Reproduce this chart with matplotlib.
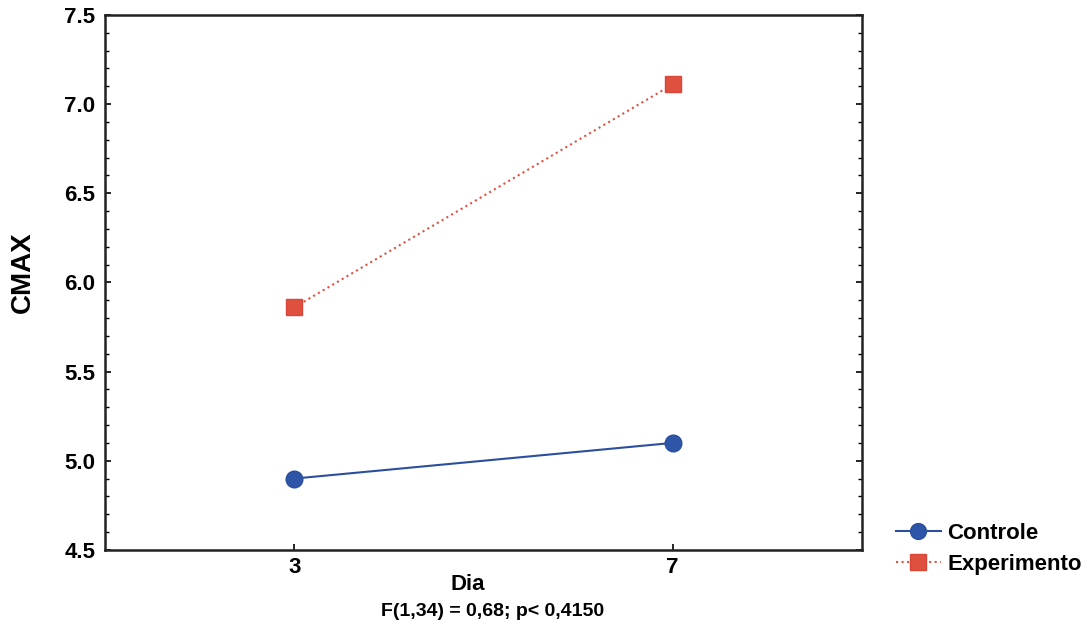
import matplotlib.pyplot as plt
from matplotlib.ticker import MultipleLocator

plt.rcParams['font.family'] = ['Liberation Sans', 'DejaVu Sans']
plt.rcParams['font.weight'] = 'bold'

dias = ["3", "7"]
controle = [4.90, 5.10]
experimento = [5.86, 7.11]
stat_text = "F(1,34) = 0,68; p< 0,4150"

fig = plt.figure(figsize=(10.89, 6.35), dpi=100)
ax = fig.add_axes([0.0964, 0.134, 0.695, 0.8425])

x = range(len(dias))
ax.plot(x, controle, color='#2b4f9e', lw=1.5, ls='-', marker='o', ms=12,
        markerfacecolor='#2f55a8', markeredgecolor='#2b4f9e', label='Controle')
ax.plot(x, experimento, color='#e0503f', lw=1.5, ls=':', marker='s', ms=12,
        markerfacecolor='#e0503f', markeredgecolor='#d8473a', label='Experimento')

ax.set_xlim(-0.5, 1.5)
ax.set_ylim(4.5, 7.5)
ax.set_xticks(list(x))
ax.set_xticklabels(dias)
ax.yaxis.set_major_locator(MultipleLocator(0.5))
ax.yaxis.set_minor_locator(MultipleLocator(0.1))
ax.yaxis.set_major_formatter(plt.FormatStrFormatter('%.1f'))
ax.tick_params(which='both', direction='in', right=True, top=False, labelsize=16)
ax.tick_params(which='major', length=4, width=1.2)
ax.tick_params(which='minor', length=3, width=1)
ax.tick_params(axis='x', pad=5)
ax.tick_params(axis='y', pad=7)
for s in ax.spines.values():
    s.set_linewidth(1.8)
    s.set_color('#222222')

fig.text(23 / 1089, 1 - 272 / 635, 'CMAX', rotation=90, ha='center', va='center',
         fontsize=20, fontweight='bold')
fig.text(468 / 1089, 1 - 584 / 635, 'Dia', ha='center', va='center', fontsize=16, fontweight='bold')
fig.text(493 / 1089, 1 - 612 / 635, stat_text, ha='center', va='center', fontsize=14, fontweight='bold')

fig.legend(loc='center left', bbox_to_anchor=(0.8045, 0.135), frameon=False,
           handlelength=2.0, handletextpad=0.3, labelspacing=0.45, markerscale=0.95,
           prop={'weight': 'bold', 'size': 16})

fig.savefig('out.png', dpi=100)
